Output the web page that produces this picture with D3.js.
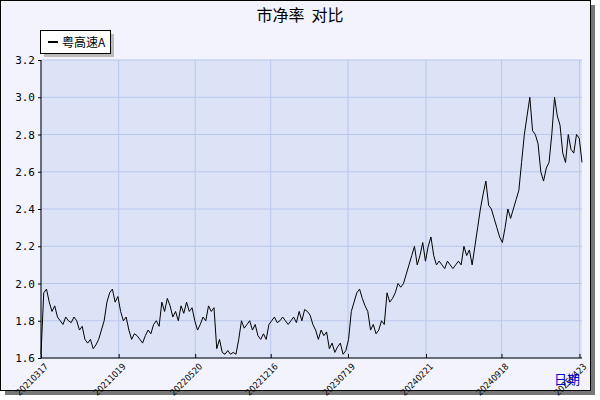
<!DOCTYPE html><html><head><meta charset="utf-8"><script src="https://cdn.jsdelivr.net/npm/d3@7"></script>
<style>body{margin:0;background:#fff}</style></head><body><svg id="c" width="600" height="400"></svg><script>
const startDate="2021-03-17", endDate="2025-04-30";
const tickLabels=["20210317","20211019","20220520","20221216","20230719","20240221","20240918","20250423"];
const yTicks=[1.6,1.8,2.0,2.2,2.4,2.6,2.8,3.0,3.2];
const seriesName="粤高速A";
const values=[1.62,1.95,1.97,1.9,1.85,1.88,1.82,1.8,1.78,1.82,1.8,1.79,1.82,1.8,1.75,1.77,1.7,1.68,1.7,1.65,1.67,1.7,1.75,1.8,1.9,1.95,1.97,1.9,1.93,1.85,1.8,1.82,1.75,1.7,1.73,1.72,1.7,1.68,1.72,1.75,1.73,1.78,1.8,1.77,1.9,1.85,1.92,1.88,1.82,1.85,1.8,1.88,1.84,1.9,1.85,1.87,1.8,1.75,1.78,1.82,1.8,1.88,1.85,1.87,1.65,1.7,1.63,1.62,1.64,1.62,1.63,1.62,1.7,1.8,1.76,1.78,1.8,1.75,1.78,1.72,1.7,1.73,1.7,1.78,1.8,1.82,1.79,1.8,1.82,1.8,1.78,1.8,1.82,1.79,1.85,1.8,1.86,1.85,1.83,1.78,1.75,1.7,1.75,1.72,1.74,1.65,1.68,1.63,1.66,1.68,1.62,1.64,1.7,1.85,1.9,1.95,1.97,1.92,1.88,1.85,1.75,1.78,1.73,1.75,1.8,1.78,1.95,1.9,1.92,1.95,2.0,1.98,2.0,2.05,2.1,2.15,2.2,2.1,2.15,2.22,2.12,2.2,2.25,2.15,2.1,2.12,2.1,2.08,2.12,2.1,2.08,2.1,2.12,2.1,2.2,2.15,2.18,2.1,2.2,2.3,2.4,2.48,2.55,2.42,2.4,2.35,2.3,2.25,2.22,2.3,2.4,2.35,2.4,2.45,2.5,2.65,2.8,2.9,3.0,2.82,2.8,2.75,2.6,2.55,2.62,2.65,2.8,3.0,2.9,2.85,2.7,2.65,2.8,2.72,2.7,2.8,2.78,2.65];
const svg=d3.select("#c");
svg.append("rect").attr("x",5).attr("y",5).attr("width",590).attr("height",390).attr("fill","#777");
svg.append("rect").attr("x",0.5).attr("y",0.5).attr("width",590).attr("height",390).attr("fill","#f2f3fc").attr("stroke","#000");
const m={l:41,r:582,t:60,b:358};
const p=d3.timeParse("%Y-%m-%d"), pt=d3.timeParse("%Y%m%d");
const t0=p(startDate), t1=p(endDate);
const data=values.map((v,i)=>({d:new Date(+t0+(t1-t0)*i/(values.length-1)),v}));
const x=d3.scaleTime().domain([t0,t1]).range([m.l,m.r]);
const y=d3.scaleLinear().domain([1.6,3.2]).range([m.b,m.t]);
svg.append("rect").attr("x",m.l).attr("y",m.t).attr("width",m.r-m.l).attr("height",m.b-m.t).attr("fill","#dde3f7");
const tds=tickLabels.map(pt);
svg.append("g").selectAll("line").data(tds).join("line").attr("x1",d=>x(d)).attr("x2",d=>x(d)).attr("y1",m.t).attr("y2",m.b).attr("stroke","#b8c6ee");
svg.append("g").selectAll("line").data(yTicks).join("line").attr("x1",m.l).attr("x2",m.r).attr("y1",d=>y(d)).attr("y2",d=>y(d)).attr("stroke","#b8c6ee");
const ya=svg.append("g").attr("transform",`translate(${m.l},0)`).call(d3.axisLeft(y).tickValues(yTicks).tickFormat(d3.format(".1f")).tickSize(3));
ya.select(".domain").remove();
ya.selectAll("text").attr("font-family","DejaVu Sans Mono").attr("font-size",11).attr("fill","#000");
const xa=svg.append("g").attr("transform",`translate(0,${m.b})`).call(d3.axisBottom(x).tickValues(tds).tickFormat((d,i)=>tickLabels[i]).tickSize(-4));
xa.select(".domain").remove();
xa.selectAll("text").attr("font-family","DejaVu Sans Condensed").attr("font-size",9).attr("fill","#000").attr("text-anchor","end").attr("y",0).attr("dy","0.35em").attr("transform","translate(5,7) rotate(-45)");
svg.append("line").attr("x1",m.l).attr("x2",m.r).attr("y1",m.b).attr("y2",m.b).attr("stroke","#000");
svg.append("line").attr("x1",m.l).attr("x2",m.l).attr("y1",m.t).attr("y2",m.b).attr("stroke","#000");
svg.append("path").datum(data).attr("fill","none").attr("stroke","#000").attr("stroke-width",1).attr("d",d3.line().x(d=>x(d.d)).y(d=>y(d.v)));
svg.append("text").attr("x",300).attr("y",21).attr("text-anchor","middle").attr("font-family","Noto Sans CJK SC").attr("font-size",16).style("white-space","pre").text("市净率  对比");
svg.append("rect").attr("x",44).attr("y",34).attr("width",70).attr("height",23).attr("fill","#bbb");
svg.append("rect").attr("x",40.5).attr("y",30.5).attr("width",70).attr("height",23).attr("fill","#fff").attr("stroke","#000");
svg.append("line").attr("x1",48).attr("x2",58).attr("y1",42).attr("y2",42).attr("stroke","#000").attr("stroke-width",2);
svg.append("text").attr("x",62).attr("y",47).attr("font-family","Noto Sans CJK SC").attr("font-size",12).text(seriesName);
svg.append("text").attr("x",567).attr("y",384).attr("text-anchor","middle").attr("font-family","Noto Sans CJK SC").attr("font-size",13).attr("fill","#0000cc").text("日期");
</script></body></html>
